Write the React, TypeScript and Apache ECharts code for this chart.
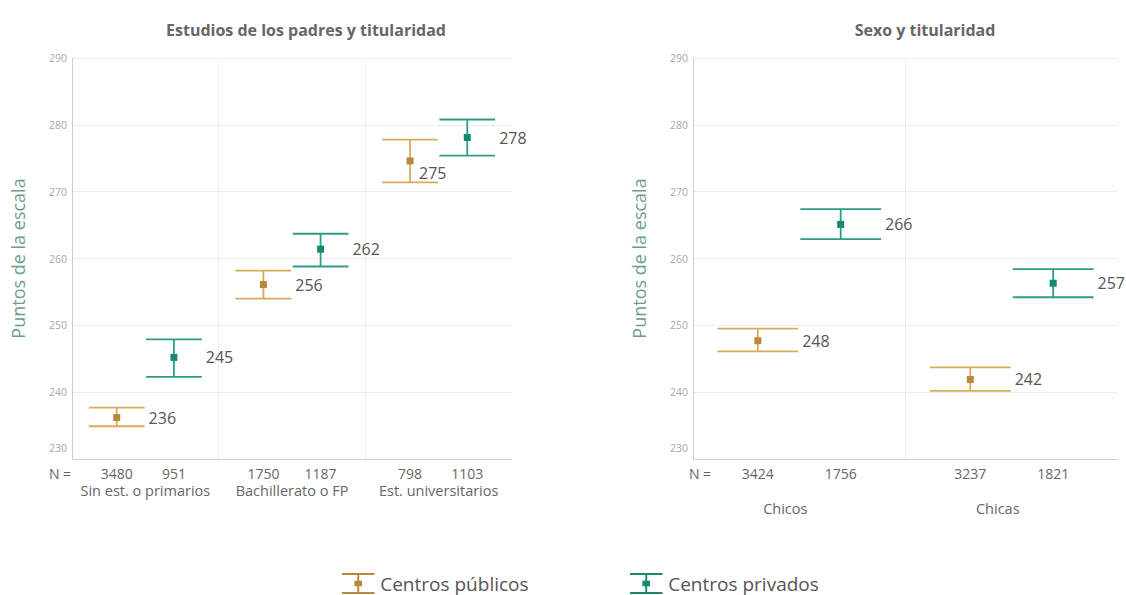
import React, { useEffect, useRef } from "react";
import * as echarts from "echarts";

const FONT = "'Open Sans', 'Noto Sans', sans-serif";

// ---------- Left panel: Estudios de los padres y titularidad ----------
const parentEduCategories = ["Sin est. o primarios", "Bachillerato o FP", "Est. universitarios"];
const parentEduPublicMean = [236.2, 256.1, 274.6];
const parentEduPublicLow = [234.9, 254.0, 271.4];
const parentEduPublicHigh = [237.7, 258.2, 277.8];
const parentEduPublicLabel = ["236", "256", "275"];
const parentEduPublicN = ["3480", "1750", "798"];
const parentEduPrivateMean = [245.2, 261.4, 278.1];
const parentEduPrivateLow = [242.3, 258.8, 275.4];
const parentEduPrivateHigh = [247.9, 263.7, 280.8];
const parentEduPrivateLabel = ["245", "262", "278"];
const parentEduPrivateN = ["951", "1187", "1103"];

// ---------- Right panel: Sexo y titularidad ----------
const sexCategories = ["Chicos", "Chicas"];
const sexPublicMean = [247.7, 241.9];
const sexPublicLow = [246.1, 240.2];
const sexPublicHigh = [249.5, 243.7];
const sexPublicLabel = ["248", "242"];
const sexPublicN = ["3424", "3237"];
const sexPrivateMean = [265.1, 256.3];
const sexPrivateLow = [262.9, 254.2];
const sexPrivateHigh = [267.4, 258.4];
const sexPrivateLabel = ["266", "257"];
const sexPrivateN = ["1756", "1821"];

const Y_MIN = 230;
const Y_MAX = 290;
const Y_STEP = 10;

const SERIES_PUBLIC = "Centros públicos";
const SERIES_PRIVATE = "Centros privados";

const PUB_LINE = "#d9aa58";
const PUB_MARK = "#b8893c";
const PRIV_LINE = "#2b9e88";
const PRIV_MARK = "#17896f";

const OFFSET = 0.195; // horizontal offset of each series inside a group (axis units)
const CAP = 0.19; // half width of caps (axis units)

function buildData(n: number, sign: number, mean: number[], lo: number[], hi: number[]) {
  const out: number[][] = [];
  for (let i = 0; i < n; i++) out.push([i + 0.5 + sign * OFFSET, mean[i], lo[i], hi[i]]);
  return out;
}

function errRender(lineColor: string, markColor: string, labels: string[], ns: string[], labelBelow: boolean[]) {
  return (params: any, api: any) => {
    const i = params.dataIndex;
    const x = api.value(0);
    const pm = api.coord([x, api.value(1)]);
    const pl = api.coord([x, api.value(2)]);
    const ph = api.coord([x, api.value(3)]);
    const bottom = api.coord([x, Y_MIN])[1];
    const half = api.size([CAP, 0])[0];
    const lw = 1.8;
    const below = labelBelow[i];
    return {
      type: "group",
      children: [
        { type: "line", shape: { x1: pm[0], y1: ph[1], x2: pm[0], y2: pl[1] }, style: { stroke: lineColor, lineWidth: lw } },
        { type: "line", shape: { x1: pm[0] - half, y1: ph[1], x2: pm[0] + half, y2: ph[1] }, style: { stroke: lineColor, lineWidth: lw } },
        { type: "line", shape: { x1: pm[0] - half, y1: pl[1], x2: pm[0] + half, y2: pl[1] }, style: { stroke: lineColor, lineWidth: lw } },
        { type: "rect", shape: { x: pm[0] - 3.5, y: pm[1] - 3.5, width: 7, height: 7 }, style: { fill: markColor } },
        {
          type: "text",
          x: below ? pm[0] + 9 : pm[0] + half + 4,
          y: below ? pm[1] + 12 : pm[1],
          style: { text: labels[i], fill: "#555", font: `16px ${FONT}`, align: "left", verticalAlign: "middle" },
        },
        {
          type: "text",
          x: pm[0],
          y: bottom + 14,
          style: { text: ns[i], fill: "#666", font: `14px ${FONT}`, align: "center", verticalAlign: "middle" },
        },
      ],
    };
  };
}

function groupLabelRender(labels: string[], dy: number, dx: number) {
  return (params: any, api: any) => {
    const p = api.coord([api.value(0), Y_MIN]);
    return {
      type: "text",
      x: p[0] + dx,
      y: p[1] + dy,
      style: { text: labels[params.dataIndex], fill: "#666", font: `14.5px ${FONT}`, align: "center", verticalAlign: "middle" },
    };
  };
}

function yAxisCfg(gridIndex: number) {
  return {
    type: "value",
    gridIndex,
    min: Y_MIN,
    max: Y_MAX,
    interval: Y_STEP,
    name: "Puntos de la escala",
    nameLocation: "middle",
    nameGap: 45,
    nameTextStyle: { color: "#6d9d8c", fontSize: 18, fontFamily: FONT },
    axisLine: { show: true, lineStyle: { color: "#cfcfcf", width: 1 } },
    axisTick: { show: false },
    axisLabel: {
      color: "#a8a8a8",
      fontSize: 10.5,
      fontFamily: FONT,
      margin: 5,
      formatter: (v: number) => (v === Y_MIN ? `{lo|${v}}` : `${v}`),
      rich: { lo: { color: "#a8a8a8", fontSize: 10.5, fontFamily: FONT, padding: [0, 0, 22, 0] } },
    },
    splitLine: { show: true, lineStyle: { color: "#ececec", width: 1 } },
  };
}

function xAxisCfg(gridIndex: number, max: number) {
  return {
    type: "value",
    gridIndex,
    min: 0,
    max,
    interval: 1,
    axisLine: { show: true, onZero: false, lineStyle: { color: "#cfcfcf", width: 1 } },
    axisTick: { show: false },
    axisLabel: { show: false },
    splitLine: { show: true, showMinLine: false, showMaxLine: false, lineStyle: { color: "#efefef", width: 1 } },
  };
}

export default function App() {
  const ref = useRef<HTMLDivElement>(null);
  useEffect(() => {
    if (!ref.current) return;
    const chart = echarts.init(ref.current, undefined, { renderer: "svg" });
    const nL = parentEduCategories.length;
    const nR = sexCategories.length;
    const legendIcon = "path://M0,0H34V2H0Z M16,2H18V20H16Z M13,8H21V14H13Z M0,20H34V22H0Z";
    const legendBase = {
      top: 568,
      itemWidth: 34,
      itemHeight: 21,
      icon: legendIcon,
      textStyle: { fontSize: 19, color: "#555", fontFamily: FONT },
    };
    chart.setOption({
      animation: false,
      backgroundColor: "#ffffff",
      textStyle: { fontFamily: FONT },
      title: [
        { text: "Estudios de los padres y titularidad", left: 301, top: 17, textAlign: "center", textStyle: { fontSize: 16, fontWeight: "bold", color: "#666", fontFamily: FONT } },
        { text: "Sexo y titularidad", left: 920, top: 17, textAlign: "center", textStyle: { fontSize: 16, fontWeight: "bold", color: "#666", fontFamily: FONT } },
      ],
      legend: [
        { ...legendBase, left: 337, data: [SERIES_PUBLIC] },
        { ...legendBase, left: 625, data: [SERIES_PRIVATE] },
      ],
      grid: [
        { left: 72, top: 58, width: 440, height: 401 },
        { left: 693, top: 58, width: 425, height: 401 },
      ],
      xAxis: [xAxisCfg(0, nL), xAxisCfg(1, nR)],
      yAxis: [yAxisCfg(0), yAxisCfg(1)],
      graphic: [
        { type: "text", x: 60, y: 473, style: { text: "N =", fill: "#666", font: `14px ${FONT}`, align: "center", verticalAlign: "middle" } },
        { type: "text", x: 700, y: 473, style: { text: "N =", fill: "#666", font: `14px ${FONT}`, align: "center", verticalAlign: "middle" } },
      ],
      series: [
        {
          type: "custom", name: SERIES_PUBLIC, xAxisIndex: 0, yAxisIndex: 0, clip: false,
          itemStyle: { color: PUB_MARK },
          encode: { x: 0, y: 1 },
          data: buildData(nL, -1, parentEduPublicMean, parentEduPublicLow, parentEduPublicHigh),
          renderItem: errRender(PUB_LINE, PUB_MARK, parentEduPublicLabel, parentEduPublicN, [false, false, true]),
        },
        {
          type: "custom", name: SERIES_PRIVATE, xAxisIndex: 0, yAxisIndex: 0, clip: false,
          itemStyle: { color: PRIV_MARK },
          encode: { x: 0, y: 1 },
          data: buildData(nL, 1, parentEduPrivateMean, parentEduPrivateLow, parentEduPrivateHigh),
          renderItem: errRender(PRIV_LINE, PRIV_MARK, parentEduPrivateLabel, parentEduPrivateN, [false, false, false]),
        },
        {
          type: "custom", name: SERIES_PUBLIC, xAxisIndex: 1, yAxisIndex: 1, clip: false,
          itemStyle: { color: PUB_MARK },
          encode: { x: 0, y: 1 },
          data: buildData(nR, -1, sexPublicMean, sexPublicLow, sexPublicHigh),
          renderItem: errRender(PUB_LINE, PUB_MARK, sexPublicLabel, sexPublicN, [false, false]),
        },
        {
          type: "custom", name: SERIES_PRIVATE, xAxisIndex: 1, yAxisIndex: 1, clip: false,
          itemStyle: { color: PRIV_MARK },
          encode: { x: 0, y: 1 },
          data: buildData(nR, 1, sexPrivateMean, sexPrivateLow, sexPrivateHigh),
          renderItem: errRender(PRIV_LINE, PRIV_MARK, sexPrivateLabel, sexPrivateN, [false, false]),
        },
        {
          type: "custom", name: "groupsLeft", xAxisIndex: 0, yAxisIndex: 0, clip: false, silent: true,
          encode: { x: 0, y: 1 },
          data: parentEduCategories.map((_, i) => [i + 0.5, Y_MIN]),
          renderItem: groupLabelRender(parentEduCategories, 31, 0),
        },
        {
          type: "custom", name: "groupsRight", xAxisIndex: 1, yAxisIndex: 1, clip: false, silent: true,
          encode: { x: 0, y: 1 },
          data: sexCategories.map((_, i) => [i + 0.5, Y_MIN]),
          renderItem: groupLabelRender(sexCategories, 49, -14),
        },
      ],
    });
    return () => chart.dispose();
  }, []);
  return <div ref={ref} style={{ position: "fixed", left: 0, top: 0, width: 1126, height: 595 }} />;
}
